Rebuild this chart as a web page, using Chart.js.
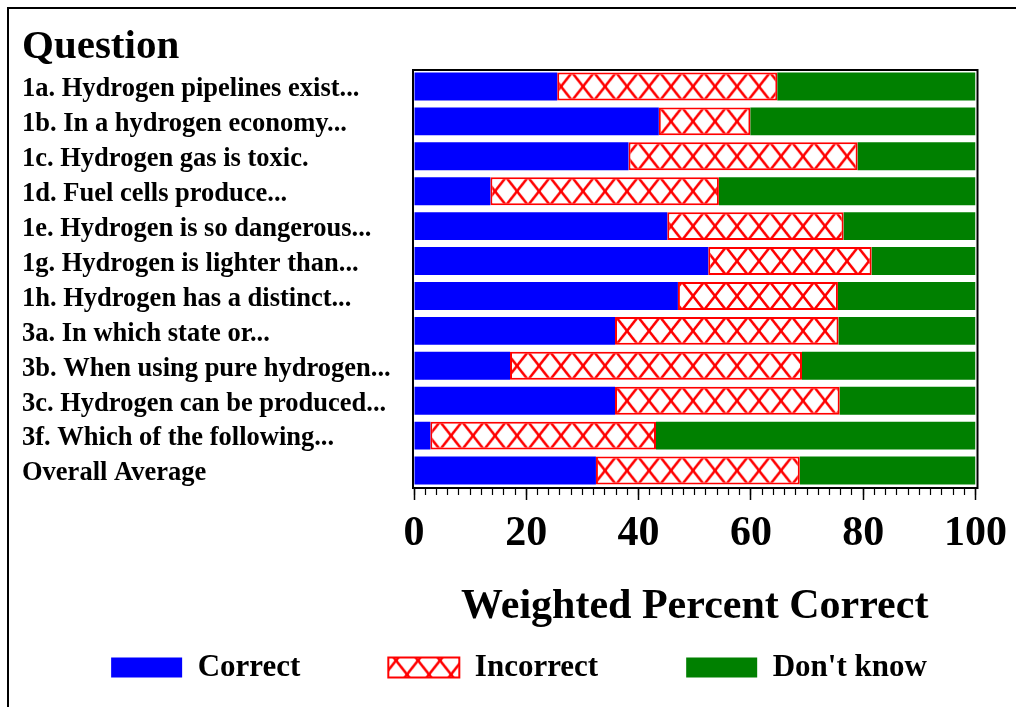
<!DOCTYPE html>
<html>
<head>
<meta charset="utf-8">
<script src="https://cdn.jsdelivr.net/npm/chart.js@4/dist/chart.umd.min.js"></script>
<style>
html,body{margin:0;padding:0;background:#fff;}
#wrap{position:relative;width:1016px;height:707px;overflow:hidden;background:#fff;}
#frame{position:absolute;left:7px;top:7px;width:1200px;height:900px;border-top:2px solid #000;border-left:2px solid #000;pointer-events:none;}
canvas{display:block;}
</style>
</head>
<body>
<div id="wrap"><canvas id="c" width="1016" height="707"></canvas><div id="frame"></div></div>
<script>
// ---- data ----
const QUESTIONS = [
  "1a. Hydrogen pipelines exist...",
  "1b. In a hydrogen economy...",
  "1c. Hydrogen gas is toxic.",
  "1d. Fuel cells produce...",
  "1e. Hydrogen is so dangerous...",
  "1g. Hydrogen is lighter than...",
  "1h. Hydrogen has a distinct...",
  "3a. In which state or...",
  "3b. When using pure hydrogen...",
  "3c. Hydrogen can be produced...",
  "3f. Which of the following...",
  "Overall Average"
];
const CORRECT   = [25.5, 43.6, 38.2, 13.6, 45.1, 52.4, 47.0, 35.8, 17.1, 35.8,  2.9, 32.4];
const INCORRECT = [39.2, 16.3, 40.8, 40.7, 31.4, 29.1, 28.5, 39.8, 52.0, 40.0, 40.2, 36.3];
const DONT_KNOW = [35.3, 40.1, 21.0, 45.7, 23.5, 18.5, 24.5, 24.4, 30.9, 24.2, 56.9, 31.3];
const SERIES_NAMES = ["Correct", "Incorrect", "Don't know"];
const AXIS_TITLE = "Weighted Percent Correct";
const CHART_TITLE = "Question";

Chart.defaults.font.family = "'Liberation Serif', 'Times New Roman', serif";
Chart.defaults.font.weight = 'bold';
Chart.defaults.color = '#000';

function hatch(ctx, offY) {
  const W = 22, H = 28;
  const c = document.createElement('canvas');
  c.width = W; c.height = H;
  const g = c.getContext('2d');
  g.fillStyle = '#ffffff';
  g.fillRect(0, 0, W, H);
  g.strokeStyle = '#ff0000';
  g.lineWidth = 2.6;
  for (const dx of [-W, 0, W]) {
    for (const dy of [-H, 0, H]) {
      g.beginPath(); g.moveTo(dx, dy); g.lineTo(dx + W, dy + H); g.stroke();
      g.beginPath(); g.moveTo(dx + W, dy); g.lineTo(dx, dy + H); g.stroke();
    }
  }
  const p = ctx.createPattern(c, 'repeat');
  if (isFinite(offY)) p.setTransform(new DOMMatrix().translate(0, offY));
  return p;
}

function incorrectFill(c) {
  const chart = c.chart;
  let off = 0;
  const ys = chart.scales && chart.scales.y;
  if (ys && c.dataIndex !== undefined) {
    const v = ys.getPixelForValue(c.dataIndex);
    if (isFinite(v)) off = v - 14;
  }
  return hatch(chart.ctx, off);
}

const framePlugin = {
  id: 'plotFrame',
  afterDatasetsDraw(chart) {
    const {ctx, chartArea: a} = chart;
    ctx.save();
    ctx.strokeStyle = '#000';
    ctx.lineWidth = 2;
    ctx.strokeRect(a.left - 1, a.top + 1, a.right - a.left + 3, a.bottom - a.top - 1);
    ctx.restore();
  }
};

new Chart(document.getElementById('c'), {
  type: 'bar',
  data: {
    labels: QUESTIONS,
    datasets: [
      { label: SERIES_NAMES[0], data: CORRECT, xAxisID: 'x', yAxisID: 'y',
        backgroundColor: '#0000ff', borderWidth: 0 },
      { label: SERIES_NAMES[1], data: INCORRECT, xAxisID: 'x', yAxisID: 'y',
        backgroundColor: incorrectFill, borderColor: '#ff0000', borderWidth: 2, borderSkipped: false },
      { label: SERIES_NAMES[2], data: DONT_KNOW, xAxisID: 'x', yAxisID: 'y',
        backgroundColor: '#008000', borderWidth: 0 }
    ]
  },
  options: {
    indexAxis: 'y',
    responsive: false,
    animation: false,
    devicePixelRatio: 1,
    barPercentage: 0.8,
    categoryPercentage: 1.0,
    layout: { padding: { top: 10, left: 22, right: 0, bottom: 14 } },
    plugins: {
      title: {
        display: true, text: CHART_TITLE, align: 'start', color: '#000',
        font: { size: 41, weight: 'bold', lineHeight: 1 },
        padding: { top: 17, bottom: 1 }
      },
      legend: {
        position: 'bottom', align: 'center',
        labels: { boxWidth: 71, boxHeight: 20, padding: 88, color: '#000',
                  font: { size: 31, weight: 'bold' } }
      },
      tooltip: { enabled: false }
    },
    scales: {
      x: {
        type: 'linear', position: 'bottom', weight: 0, stacked: true, min: 0, max: 100,
        ticks: { stepSize: 20, padding: 9, color: '#000', maxRotation: 0, autoSkip: false,
                 font: { size: 42, weight: 'bold' } },
        grid: { display: true, drawOnChartArea: false, drawTicks: true, tickLength: 12,
                color: '#000', tickWidth: 1.5 },
        border: { display: true, color: '#000', width: 2 },
        title: { display: true, text: AXIS_TITLE, color: '#000',
                 font: { size: 42, weight: 'bold', lineHeight: 1.2 },
                 padding: { top: 0, bottom: -68 } },
        afterFit: (s) => { s.height = 76; }
      },
      xMinor: {
        type: 'linear', position: 'bottom', weight: -1, min: 0, max: 100,
        ticks: { display: false, stepSize: 2 },
        grid: { display: true, drawOnChartArea: false, drawTicks: true, tickLength: 7,
                color: '#000', tickWidth: 1.2 },
        border: { display: false },
        afterFit: (s) => { s.height = 0; }
      },
      y: {
        type: 'category', stacked: true, offset: true, position: 'left',
        grid: { display: false },
        border: { display: false },
        ticks: { crossAlign: 'far', autoSkip: false, color: '#000', labelOffset: 3,
                 font: { size: 26.5, weight: 'bold' } },
        afterFit: (s) => { s.width = 392; }
      },
      yRight: {
        type: 'category', position: 'right', offset: true,
        grid: { display: false },
        border: { display: false },
        ticks: { display: false },
        afterFit: (s) => { s.width = 37; }
      }
    }
  },
  plugins: [framePlugin]
});
</script>
</body>
</html>
